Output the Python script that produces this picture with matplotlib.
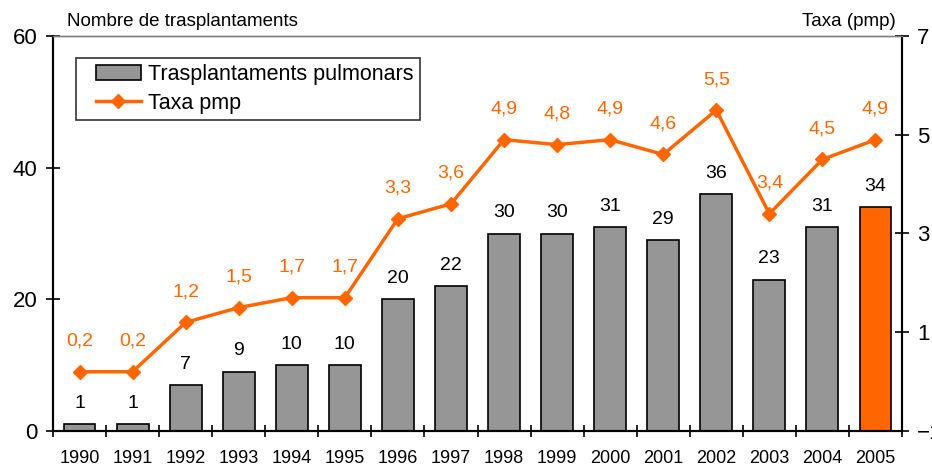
import matplotlib
matplotlib.use("Agg")
import matplotlib.pyplot as plt
import numpy as np
from matplotlib.lines import Line2D
from matplotlib.patches import Patch, Rectangle
from matplotlib.legend_handler import HandlerPatch, HandlerLine2D

years = ["1990", "1991", "1992", "1993", "1994", "1995", "1996", "1997",
         "1998", "1999", "2000", "2001", "2002", "2003", "2004", "2005"]
transplants = [1, 1, 7, 9, 10, 10, 20, 22, 30, 30, 31, 29, 36, 23, 31, 34]
rate = [0.2, 0.2, 1.2, 1.5, 1.7, 1.7, 3.3, 3.6, 4.9, 4.8, 4.9, 4.6, 5.5, 3.4, 4.5, 4.9]

ORANGE = "#FF6600"
GRAY = "#969696"

plt.rcParams['font.family'] = ['Liberation Sans', 'DejaVu Sans']

fig = plt.figure(figsize=(9.32, 4.68), dpi=100)
ax = fig.add_axes([53/932, 37/468, 849/932, 395/468])
ax2 = ax.twinx()

x = np.arange(len(years))
colors = [GRAY] * (len(years) - 1) + [ORANGE]
ax.bar(x, transplants, width=0.6, color=colors, edgecolor="black", linewidth=1.2, zorder=2)
for xi, v in zip(x, transplants):
    ax.annotate(str(v), (xi, v), xytext=(0, 15), textcoords="offset points",
                ha="center", va="center", fontsize=14, color="black")

ax.set_xlim(-0.5, len(years) - 0.5)
ax.set_ylim(0, 60)
ax.set_yticks([0, 20, 40, 60])
ax.set_xticks(x)
ax.set_xticklabels(years, fontsize=13)
ax.set_xticks(np.arange(-0.5, len(years), 1.0), minor=True)
ax.tick_params(axis='x', which='major', length=0, pad=14)
ax.tick_params(axis='x', which='minor', direction='inout', length=8, width=1.2)
ax.tick_params(axis='y', direction='inout', length=10, width=1.2, labelsize=16, pad=6)

ax2.plot(x, rate, color=ORANGE, lw=2.5, marker="D", markersize=7, zorder=3)
for xi, v in zip(x, rate):
    ax2.annotate(f"{v:.1f}".replace(".", ","), (xi, v), xytext=(0, 22),
                 textcoords="offset points", ha="center", va="center",
                 fontsize=14, color=ORANGE)
ax2.set_ylim(-1, 7)
ax2.set_yticks([-1, 1, 3, 5, 7])
ax2.tick_params(axis='y', direction='inout', length=10, width=1.2, labelsize=16, pad=6)

for a in (ax, ax2):
    a.spines['top'].set_color("#808080")
    a.spines['top'].set_linewidth(1.0)
    a.spines['left'].set_linewidth(1.5)
    a.spines['right'].set_linewidth(1.5)
    a.spines['bottom'].set_linewidth(1.5)

fig.text(67/932, 1 - 21/468, "Nombre de trasplantaments", fontsize=13.5, ha="left", va="center")
fig.text(896/932, 1 - 21/468, "Taxa (pmp)", fontsize=13.5, ha="right", va="center")

SHIFT = 0.24  # fraction of handle box left empty


def patch_func(legend, orig_handle, xdescent, ydescent, width, height, fontsize):
    s = width * SHIFT
    return Rectangle((-xdescent + s, -ydescent), width - s, height)


class ShiftedLine(HandlerLine2D):
    def get_xdata(self, legend, xdescent, ydescent, width, height, fontsize):
        s = width * SHIFT
        xd, xm = super().get_xdata(legend, xdescent, ydescent, width, height, fontsize)
        xd = np.asarray(xd, dtype=float)
        xm = np.asarray(xm, dtype=float)
        x0 = -xdescent
        f = lambda a: x0 + s + (a - x0) * (width - s) / width
        return f(xd), f(xm)


handles = [Patch(facecolor=GRAY, edgecolor="black", linewidth=1.2),
           Line2D([0], [0], color=ORANGE, lw=2.5, marker="D", markersize=7)]
leg = ax2.legend(handles, ["Trasplantaments pulmonars", "Taxa pmp"],
                 loc="upper left", bbox_to_anchor=(23/849, 1 - 22/395),
                 fontsize=15.5, frameon=True, fancybox=False, edgecolor="black",
                 borderpad=0.3, handlelength=2.7, handletextpad=0.33, labelspacing=0.35,
                 borderaxespad=0,
                 handler_map={Patch: HandlerPatch(patch_func=patch_func),
                              Line2D: ShiftedLine()})
leg.get_frame().set_linewidth(1.2)

fig.savefig("out.png", dpi=100)
